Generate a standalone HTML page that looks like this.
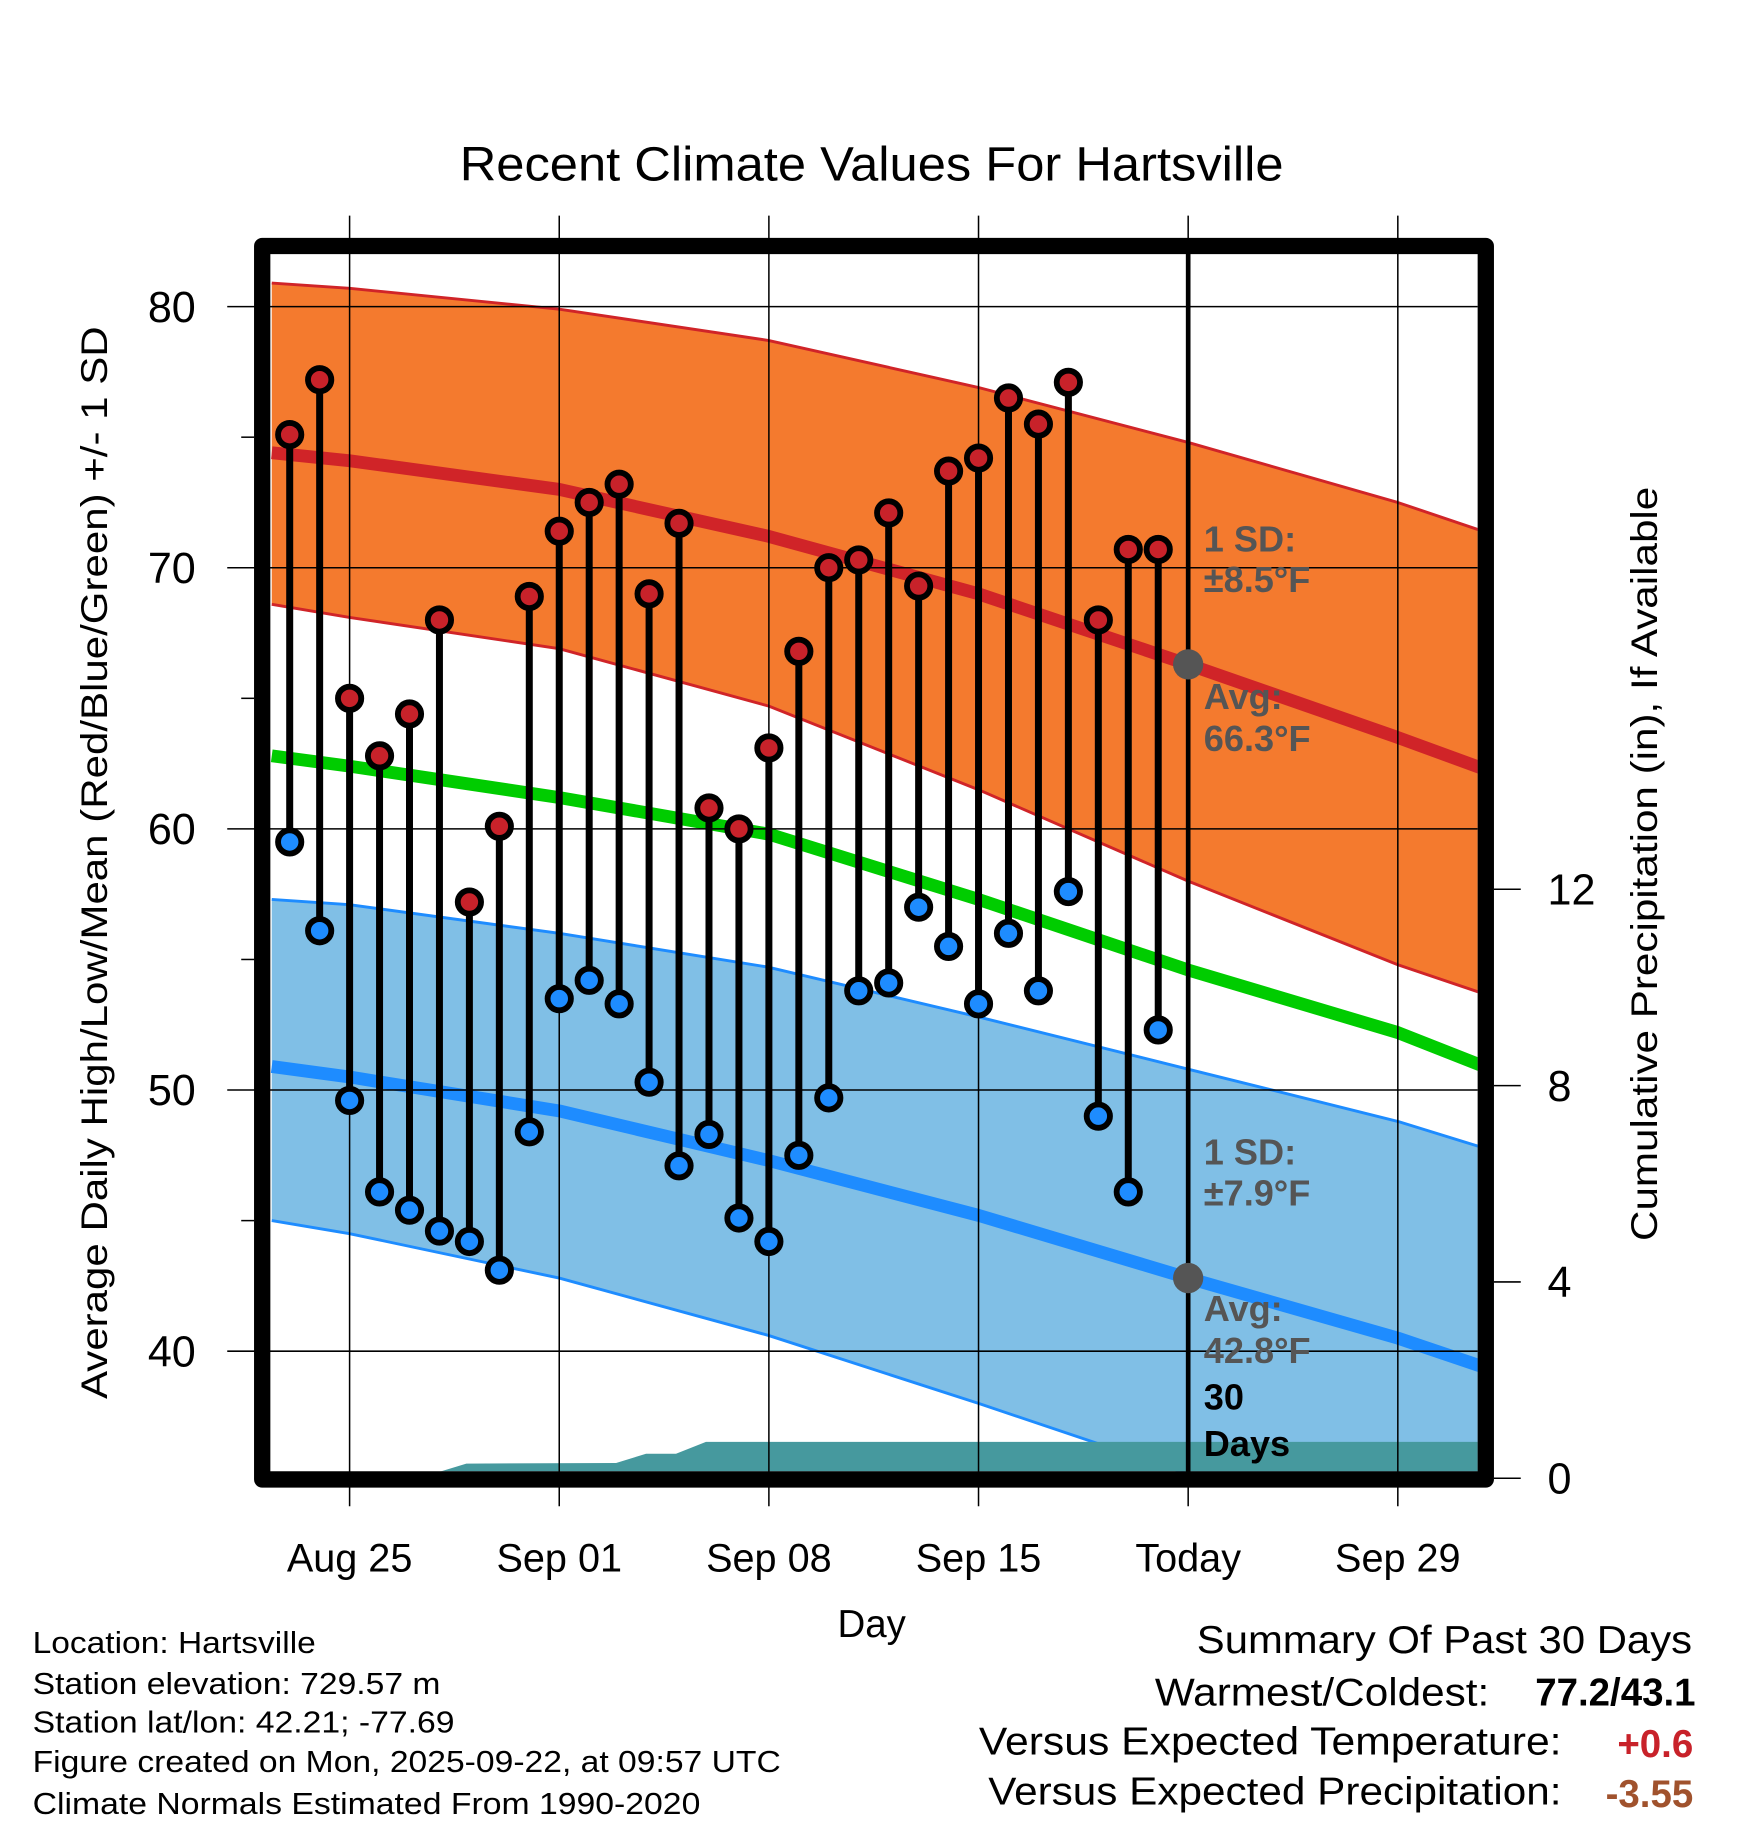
<!DOCTYPE html>
<html><head><meta charset="utf-8"><style>
html,body{margin:0;padding:0;background:#fff}
svg{display:block;font-family:"Liberation Sans",Arial,sans-serif}
</style></head><body>
<svg id="chart" width="1748" height="1828" viewBox="0 0 1500 1568" preserveAspectRatio="none" xmlns="http://www.w3.org/2000/svg">
<text x="748" y="155" font-size="41" text-anchor="middle" textLength="707" lengthAdjust="spacingAndGlyphs">Recent Climate Values For Hartsville</text>
<defs><clipPath id="plotclip"><rect x="232" y="218" width="1036" height="1044"/></clipPath></defs>
<g id="plot" clip-path="url(#plotclip)"></g>
<g id="axes"></g>
<text transform="translate(92,740) rotate(-90)" font-size="32" text-anchor="middle" textLength="920" lengthAdjust="spacingAndGlyphs">Average Daily High/Low/Mean (Red/Blue/Green) +/- 1 SD</text>
<text transform="translate(1422,741) rotate(-90)" font-size="32" text-anchor="middle" textLength="647" lengthAdjust="spacingAndGlyphs">Cumulative Precipitation (in), If Available</text>
<text x="748" y="1404" font-size="33" text-anchor="middle">Day</text>
<g font-size="26">
<text x="28" y="1418" textLength="243" lengthAdjust="spacingAndGlyphs">Location: Hartsville</text>
<text x="28" y="1453" textLength="350" lengthAdjust="spacingAndGlyphs">Station elevation: 729.57 m</text>
<text x="28" y="1486" textLength="362" lengthAdjust="spacingAndGlyphs">Station lat/lon: 42.21; -77.69</text>
<text x="28" y="1520" textLength="642" lengthAdjust="spacingAndGlyphs">Figure created on Mon, 2025-09-22, at 09:57 UTC</text>
<text x="28" y="1556" textLength="573" lengthAdjust="spacingAndGlyphs">Climate Normals Estimated From 1990-2020</text>
</g>
<g font-size="33">
<text x="1452" y="1418" text-anchor="end" textLength="425" lengthAdjust="spacingAndGlyphs">Summary Of Past 30 Days</text>
<text x="1278" y="1463" text-anchor="end" textLength="287" lengthAdjust="spacingAndGlyphs">Warmest/Coldest:</text>
<text x="1455" y="1463" text-anchor="end" font-weight="bold">77.2/43.1</text>
<text x="1340" y="1505" text-anchor="end" textLength="500" lengthAdjust="spacingAndGlyphs">Versus Expected Temperature:</text>
<text x="1453" y="1507" text-anchor="end" font-weight="bold" fill="#c8222a">+0.6</text>
<text x="1340" y="1548" text-anchor="end" textLength="492" lengthAdjust="spacingAndGlyphs">Versus Expected Precipitation:</text>
<text x="1453" y="1550" text-anchor="end" font-weight="bold" fill="#a0522d">-3.55</text>
</g>
</svg>
<script>
// day offsets from Aug 25 (0 = Aug 25)
const normDays=[-2.6,0,7,14,21,28,35,38.1];
const highUpper=[80.9,80.7,79.9,78.7,76.9,74.8,72.5,71.3];
const highAvg=[74.4,74.1,73.0,71.2,69.0,66.3,63.5,62.2];
const highLower=[68.6,68.1,66.9,64.7,61.5,58.0,54.8,53.6];
const meanAvg=[62.8,62.4,61.2,59.8,57.3,54.6,52.2,50.8];
const lowUpper=[57.3,57.1,56.0,54.7,52.8,50.8,48.8,47.7];
const lowAvg=[50.9,50.5,49.2,47.3,45.2,42.8,40.5,39.3];
const lowLower=[45.0,44.5,42.8,40.6,38.0,35.3,33.0,31.5];
const obsDays=[-2,-1,0,1,2,3,4,5,6,7,8,9,10,11,12,13,14,15,16,17,18,19,20,21,22,23,24,25,26,27];
const highs=[75.1,77.2,65.0,62.8,64.4,68.0,57.2,60.1,68.9,71.4,72.5,73.2,69.0,71.7,60.8,60.0,63.1,66.8,70.0,70.3,72.1,69.3,73.7,74.2,76.5,75.5,77.1,68.0,70.7,70.7];
const lows=[59.5,56.1,49.6,46.1,45.4,44.6,44.2,43.1,48.4,53.5,54.2,53.3,50.3,47.1,48.3,45.1,44.2,47.5,49.7,53.8,54.1,57.0,55.5,53.3,56.0,53.8,57.6,49.0,46.1,52.3];
const precipDays=[-3,2.3,3.9,8.9,9.9,10.9,11.9,38.5];
const precipVals=[0,0,0.3,0.31,0.5,0.5,0.74,0.74];
const xTickDays=[0,7,14,21,28,35];
const xTickLabels=["Aug 25","Sep 01","Sep 08","Sep 15","Today","Sep 29"];
const yTicks=[40,50,60,70,80];
const y2Ticks=[0,4,8,12];
const todayDay=28;

const X=d=>300+d*25.7;
const Y=t=>263+(80-t)*22.4;
const Y2=p=>1268-p*42.1;
const NS="http://www.w3.org/2000/svg";
const plot=document.getElementById('plot'), axes=document.getElementById('axes');
function mk(tag,attrs,parent){const e=document.createElementNS(NS,tag);for(const k in attrs)e.setAttribute(k,attrs[k]);parent.appendChild(e);return e;}
const pts=(ds,vs,f)=>ds.map((d,i)=>X(d).toFixed(1)+","+f(vs[i]).toFixed(1));
function band(up,lo,fill,stroke,name){
  const p=pts(normDays,up,Y).concat(pts(normDays,lo,Y).reverse());
  const e=mk('polygon',{points:p.join(' '),fill:fill},plot);
  
  
  const a=mk('polyline',{points:pts(normDays,up,Y).join(' '),fill:'none',stroke:stroke,'stroke-width':2.5},plot);
  
  
  const b=mk('polyline',{points:pts(normDays,lo,Y).join(' '),fill:'none',stroke:stroke,'stroke-width':2.5},plot);
  
  
}
band(highUpper,highLower,'#f47a2e','#d02428','high-sd-band');
band(lowUpper,lowLower,'#80bfe6','#1e8cff','low-sd-band');
{const p=pts(precipDays,precipVals,Y2);p.push(X(38.5)+",1300",X(-3)+",1300");
const e=mk('polygon',{points:p.join(' '),fill:'#46999e'},plot);

}
yTicks.forEach(t=>{const l=mk('line',{x1:195,x2:1268,y1:Y(t),y2:Y(t),stroke:'#000','stroke-width':1.3},axes);


const tx=mk('text',{x:168,y:Y(t)+13,'font-size':37,'text-anchor':'end'},axes);tx.textContent=t;

});
[35,45,55,65,75].forEach(t=>{if(Y(t)<1262)mk('line',{x1:207,x2:218,y1:Y(t),y2:Y(t),stroke:'#000','stroke-width':1.3},axes);});
xTickDays.forEach((d,i)=>{const l=mk('line',{x1:X(d),x2:X(d),y1:185,y2:1292,stroke:'#000','stroke-width':1.3},axes);


const tx=mk('text',{x:X(d),y:1348,'font-size':34,'text-anchor':'middle'},axes);tx.textContent=xTickLabels[i];

});
y2Ticks.forEach(p=>{mk('line',{x1:1282,x2:1305,y1:Y2(p),y2:Y2(p),stroke:'#000','stroke-width':1.3},axes);
const tx=mk('text',{x:1328,y:Y2(p)+13,'font-size':37},axes);tx.textContent=p;

});
[[highAvg,'#d02428','high-avg-line'],[meanAvg,'#00cc00','mean-line'],[lowAvg,'#1e8cff','low-avg-line']].forEach(([v,c,n])=>{
const e=mk('polyline',{points:pts(normDays,v,Y).join(' '),fill:'none',stroke:c,'stroke-width':11,'stroke-linejoin':'round'},plot);

});
mk('line',{x1:X(todayDay),x2:X(todayDay),y1:210,y2:1270,stroke:'#000','stroke-width':4},axes);
const fr=mk('rect',{x:225,y:211,width:1050,height:1058,fill:'none',stroke:'#000','stroke-width':14,'stroke-linejoin':'round'},axes);


obsDays.forEach((d,i)=>{
  const g=mk('g',{},axes);
  
  
  mk('line',{x1:X(d),x2:X(d),y1:Y(highs[i]),y2:Y(lows[i]),stroke:'#000','stroke-width':6},g);
  mk('circle',{cx:X(d),cy:Y(highs[i]),r:10,fill:'#c8222a',stroke:'#000','stroke-width':5},g);
  mk('circle',{cx:X(d),cy:Y(lows[i]),r:10,fill:'#1e8cff',stroke:'#000','stroke-width':5},g);
});
[highAvg[5],lowAvg[5]].forEach(v=>mk('circle',{cx:X(todayDay),cy:Y(v),r:13,fill:'#555'},axes));
const lbl=[["1 SD:",473,'#555'],["±8.5°F",508,'#555'],["Avg:",608,'#555'],["66.3°F",644,'#555'],
["1 SD:",999,'#555'],["±7.9°F",1034,'#555'],["Avg:",1133,'#555'],["42.8°F",1169,'#555'],["30",1209,'#000'],["Days",1249,'#000']];
lbl.forEach(([t,y,c])=>{const e=mk('text',{x:1033,y:y,'font-size':31,'font-weight':'bold',fill:c},axes);e.textContent=t;

});
</script>
</body></html>
